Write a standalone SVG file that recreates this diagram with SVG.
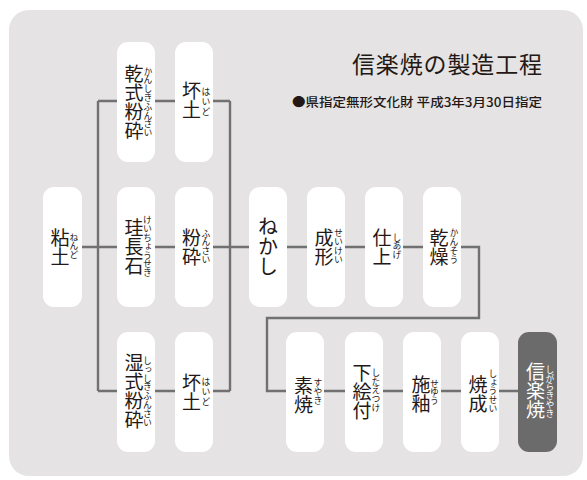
<svg xmlns="http://www.w3.org/2000/svg" width="587" height="480" viewBox="0 0 587 480">
<style>
.box{fill:#ffffff}
.dark{fill:#6b6b6b}
.main{font-family:"Noto Sans CJK JP","Noto Sans",sans-serif;font-size:19px;fill:#231815;writing-mode:vertical-rl;text-anchor:middle}
.ruby{font-family:"Noto Sans CJK JP","Noto Sans",sans-serif;font-size:8.8px;fill:#231815;writing-mode:vertical-rl;text-anchor:middle}
.w{fill:#ffffff}
.line{fill:none;stroke:#717171;stroke-width:2.4}
.title{font-family:"Noto Sans CJK JP","Noto Sans",sans-serif;font-size:23px;fill:#231815}
.sub{font-family:"Noto Sans CJK JP","Noto Sans",sans-serif;font-size:12.4px;font-weight:500;fill:#231815}
</style>
<rect x="0" y="0" width="587" height="480" fill="#ffffff"/>
<rect x="9" y="10" width="574" height="466" rx="20" fill="#e5e3e3"/>
<text class="title" x="352" y="73" textLength="190" lengthAdjust="spacing">信楽焼の製造工程</text>
<text class="sub" x="292" y="107" textLength="250" lengthAdjust="spacingAndGlyphs">●県指定無形文化財 平成3年3月30日指定</text>
<g id="connectors">
<path class="line" d="M82 247H98M98 101V391M98 101H117M98 391H117M98 247H117"/>
<path class="line" d="M155 101H175M155 247H175M155 391H175"/>
<path class="line" d="M213 101H230M213 247H230M213 391H230M230 101V391M230 247H249"/>
<path class="line" d="M287 247H307M345 247H365M403 247H423"/>
<path class="line" d="M461 247H479V318H267V391H286"/>
<path class="line" d="M324 391H345M383 391H403M441 391H461M499 391H518"/>
</g>
<g id="n-kanshiki">
<rect class="box" x="117" y="42" width="38" height="120" rx="11"/>
<text class="main" x="134" y="102">乾式粉砕</text>
<text class="ruby" x="148" y="102">かんしきふんさい</text>
</g>
<g id="n-haido1">
<rect class="box" x="175" y="42" width="38" height="120" rx="11"/>
<text class="main" x="191.5" y="100">坏土</text>
<text class="ruby" x="206" y="102" letter-spacing="1.2">はいど</text>
</g>
<g id="n-nendo">
<rect class="box" x="43" y="187" width="39" height="120" rx="11"/>
<text class="main" x="60" y="247">粘土</text>
<text class="ruby" x="74" y="246">ねんど</text>
</g>
<g id="n-keichoseki">
<rect class="box" x="117" y="187" width="38" height="120" rx="11"/>
<text class="main" x="134" y="246.5">珪長石</text>
<text class="ruby" x="147.5" y="246.5">けいちょうせき</text>
</g>
<g id="n-funsai">
<rect class="box" x="175" y="187" width="38" height="120" rx="11"/>
<text class="main" x="191.5" y="247.5">粉砕</text>
<text class="ruby" x="206" y="246.5">ふんさい</text>
</g>
<g id="n-nekashi">
<rect class="box" x="249" y="187" width="38" height="120" rx="11"/>
<text class="main" x="268" y="246.5" style="font-size:20px">ねかし</text>
</g>
<g id="n-seikei">
<rect class="box" x="307" y="187" width="38" height="120" rx="11"/>
<text class="main" x="324" y="247">成形</text>
<text class="ruby" x="338.5" y="246">せいけい</text>
</g>
<g id="n-shiage">
<rect class="box" x="365" y="187" width="38" height="120" rx="11"/>
<text class="main" x="382" y="247">仕上</text>
<text class="ruby" x="397" y="246">しあげ</text>
</g>
<g id="n-kanso">
<rect class="box" x="423" y="187" width="38" height="120" rx="11"/>
<text class="main" x="439" y="247">乾燥</text>
<text class="ruby" x="454" y="246">かんそう</text>
</g>
<g id="n-shisshiki">
<rect class="box" x="117" y="332" width="38" height="120" rx="11"/>
<text class="main" x="134" y="391.5">湿式粉砕</text>
<text class="ruby" x="147.5" y="391.5">しっしきふんさい</text>
</g>
<g id="n-haido2">
<rect class="box" x="175" y="332" width="38" height="120" rx="11"/>
<text class="main" x="191.5" y="392">坏土</text>
<text class="ruby" x="206" y="392" letter-spacing="1.2">はいど</text>
</g>
<g id="n-suyaki">
<rect class="box" x="286" y="332" width="38" height="120" rx="11"/>
<text class="main" x="303.5" y="395">素焼</text>
<text class="ruby" x="318" y="391.5">すやき</text>
</g>
<g id="n-shitaetsuke">
<rect class="box" x="345" y="332" width="38" height="120" rx="11"/>
<text class="main" x="362" y="391.5">下絵付</text>
<text class="ruby" x="376" y="390">したえつけ</text>
</g>
<g id="n-seyu">
<rect class="box" x="403" y="332" width="38" height="120" rx="11"/>
<text class="main" x="421" y="394.5">施釉</text>
<text class="ruby" x="434.5" y="392">せゆう</text>
</g>
<g id="n-shosei">
<rect class="box" x="461" y="332" width="38" height="120" rx="11"/>
<text class="main" x="478" y="394">焼成</text>
<text class="ruby" x="493" y="391">しょうせい</text>
</g>
<g id="n-shigarakiyaki">
<rect class="dark" x="518" y="332" width="39" height="120" rx="11"/>
<text class="main w" x="535.5" y="390.5">信楽焼</text>
<text class="ruby w" x="550" y="391.5">しがらきやき</text>
</g>
</svg>
